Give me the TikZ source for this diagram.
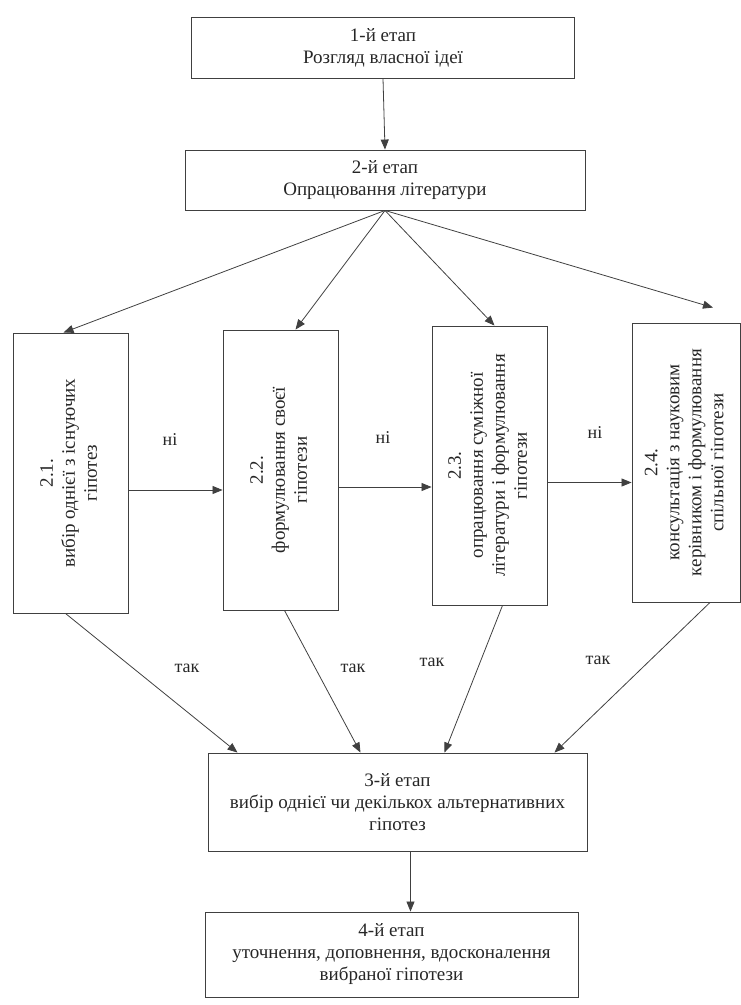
\documentclass[tikz,border=0pt]{standalone}
\usepackage{fontspec}
\setmainfont{Liberation Serif}
\usetikzlibrary{arrows.meta}
\begin{document}
\begin{tikzpicture}[x=1pt, y=-1pt]
        \tikzstyle{stage} = [draw=black!75, line width=0.9pt, align=center, inner sep=0pt, text=black!85, font=\fontsize{19}{22}\selectfont]
        \tikzstyle{arr} = [draw=black!75, line width=0.8pt, -{Triangle[length=10pt, width=8pt]}]
        \tikzstyle{lbl} = [text=black!85, font=\fontsize{18}{20}\selectfont]

        \useasboundingbox (0, 0) rectangle (741, 1005);

        \node[stage, minimum width=383pt, minimum height=61pt] (stage1) at (383, 47.5) {1-й етап\\Розгляд власної ідеї};
        \node[stage, minimum width=400pt, minimum height=60pt] (stage2) at (385, 180) {2-й етап\\Опрацювання літератури};

        \node[stage, minimum width=115pt, minimum height=280pt] (sub1) at (70.5, 473) {\rotatebox{90}{\begin{tabular}{@{}c@{}}2.1.\\вибір однієї з існуючих\\гіпотез\end{tabular}}};
        \node[stage, minimum width=115pt, minimum height=280pt] (sub2) at (280.5, 470) {\rotatebox{90}{\begin{tabular}{@{}c@{}}2.2.\\формулювання своєї\\гіпотези\end{tabular}}};
        \node[stage, minimum width=115pt, minimum height=279pt] (sub3) at (489.5, 465.5) {\rotatebox{90}{\begin{tabular}{@{}c@{}}2.3.\\опрацювання суміжної\\літератури і формулювання\\гіпотези\end{tabular}}};
        \node[stage, minimum width=108pt, minimum height=279pt] (sub4) at (686, 462.5) {\rotatebox{90}{\begin{tabular}{@{}c@{}}2.4.\\консультація з науковим\\керівником і формулювання\\спільної гіпотези\end{tabular}}};

        \node[stage, minimum width=379pt, minimum height=98pt] (stage3) at (397.5, 802) {3-й етап\\вибір однієї чи декількох альтернативних\\гіпотез};
        \node[stage, minimum width=373pt, minimum height=85pt] (stage4) at (391.5, 954.5) {4-й етап\\уточнення, доповнення, вдосконалення\\вибраної гіпотези};

        \node[lbl] (no1) at (170, 440) {ні};
        \node[lbl] (no2) at (383, 438) {ні};
        \node[lbl] (no3) at (595, 433) {ні};
        \node[lbl] (yes1) at (187, 668) {так};
        \node[lbl] (yes2) at (353, 668) {так};
        \node[lbl] (yes3) at (432, 662) {так};
        \node[lbl] (yes4) at (598, 660) {так};

        \coordinate (tip4) at ([xshift=27pt, yshift=15pt]sub4.north);

        \path[arr] (stage1.south) to (stage2.north);
        \path[arr] (stage2.south) to ([xshift=-7pt]sub1.north);
        \path[arr] (stage2.south) to ([xshift=15pt]sub2.north);
        \path[arr] (stage2.south) to ([xshift=5pt]sub3.north);
        \path[arr] (stage2.south) to (tip4);

        \path[arr] ([yshift=-17pt]sub1.east) to ([yshift=-17pt]sub1.east -| sub2.west);
        \path[arr] ([yshift=-17pt]sub2.east) to ([yshift=-17pt]sub2.east -| sub3.west);
        \path[arr] ([yshift=-17pt]sub3.east) to ([yshift=-17pt]sub3.east -| sub4.west);

        \path[arr] ([xshift=-5pt]sub1.south) to ([xshift=-160pt]stage3.north);
        \path[arr] ([xshift=4pt]sub2.south) to ([xshift=-37pt]stage3.north);
        \path[arr] ([xshift=13pt]sub3.south) to ([xshift=47pt]stage3.north);
        \path[arr] ([xshift=24pt]sub4.south) to ([xshift=157pt]stage3.north);

        \path[arr] ([xshift=13pt]stage3.south) to ([xshift=13pt]stage3.south |- stage4.north);
\end{tikzpicture}
\end{document}
